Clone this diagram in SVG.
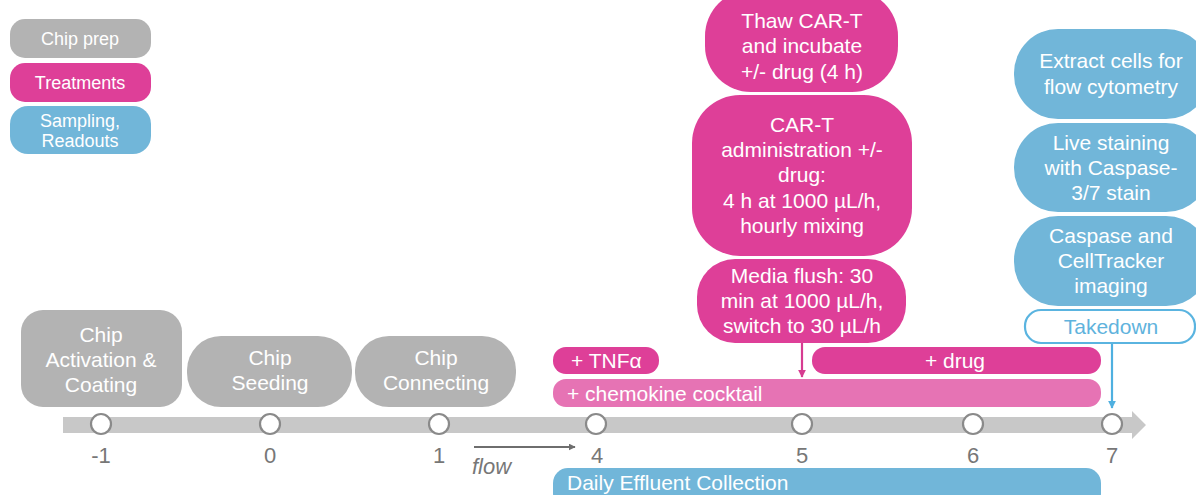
<svg xmlns="http://www.w3.org/2000/svg" width="1196" height="495" viewBox="0 0 1196 495">
<defs>
<style>
text{font-family:"Liberation Sans",Arial,sans-serif;}
.w{fill:#ffffff;font-size:21px;text-anchor:middle;}
.lg{fill:#ffffff;font-size:18px;text-anchor:middle;}
.wl{fill:#ffffff;font-size:21px;}
.num{fill:#777777;font-size:22px;text-anchor:middle;}
.gray{fill:#b3b3b3;}
.pink{fill:#de3f98;}
.lpink{fill:#e673b4;}
.blue{fill:#71b6d9;}
.dot{fill:#ffffff;stroke:#8a8a8a;stroke-width:2.2;}
</style>
<marker id="ahg" viewBox="0 0 10 10" refX="9" refY="5" markerWidth="7" markerHeight="7" markerUnits="userSpaceOnUse" orient="auto"><path d="M0,0 L10,5 L0,10 z" fill="#6e6e6e"/></marker>
<marker id="ahp" viewBox="0 0 10 10" refX="9" refY="5" markerWidth="8" markerHeight="8" markerUnits="userSpaceOnUse" orient="auto"><path d="M0,0 L10,5 L0,10 z" fill="#d63c91"/></marker>
<marker id="ahb" viewBox="0 0 10 10" refX="9" refY="5" markerWidth="8" markerHeight="8" markerUnits="userSpaceOnUse" orient="auto"><path d="M0,0 L10,5 L0,10 z" fill="#4fb0e0"/></marker>
</defs>

<g id="legend-chip-prep"><rect class="gray" x="10" y="19" width="141" height="39" rx="15"/><text class="lg" x="80" y="45">Chip prep</text></g>
<g id="legend-treatments"><rect class="pink" x="10" y="63" width="141" height="39" rx="15"/><text class="lg" x="80" y="89">Treatments</text></g>
<g id="legend-sampling"><rect class="blue" x="10" y="106" width="141" height="48" rx="18"/><text class="lg" x="80" y="127">Sampling,</text><text class="lg" x="80" y="147">Readouts</text></g>

<g id="timeline">
<path d="M63,417 L1132,417 L1132,411 L1146,425 L1132,439 L1132,433 L63,433 z" fill="#c8c8c8"/>
</g>

<g id="connectors">
<line x1="474" y1="447" x2="575" y2="447" stroke="#6e6e6e" stroke-width="1.8" marker-end="url(#ahg)"/>
<line x1="802" y1="343" x2="802" y2="377" stroke="#d63c91" stroke-width="2.2" marker-end="url(#ahp)"/>
<line x1="1112" y1="343" x2="1112" y2="408" stroke="#4fb0e0" stroke-width="2.2" marker-end="url(#ahb)"/>
</g>
<text x="472" y="474" font-size="22" font-style="italic" fill="#777777">flow</text>

<g id="day-markers">
<circle class="dot" cx="101" cy="424" r="10"/>
<circle class="dot" cx="270" cy="424" r="10"/>
<circle class="dot" cx="439" cy="424" r="10"/>
<circle class="dot" cx="596" cy="424" r="10"/>
<circle class="dot" cx="802" cy="424" r="10"/>
<circle class="dot" cx="973" cy="424" r="10"/>
<circle class="dot" cx="1112" cy="424" r="10"/>
<text class="num" x="101" y="463">-1</text>
<text class="num" x="270" y="463">0</text>
<text class="num" x="439" y="463">1</text>
<text class="num" x="597" y="463">4</text>
<text class="num" x="802" y="463">5</text>
<text class="num" x="973" y="463">6</text>
<text class="num" x="1112" y="463">7</text>
</g>

<g id="chip-activation"><rect class="gray" x="21" y="310" width="161" height="97" rx="22"/><text class="w" x="101" y="342">Chip</text><text class="w" x="101" y="367">Activation &amp;</text><text class="w" x="101" y="392">Coating</text></g>
<g id="chip-seeding"><rect class="gray" x="187" y="336" width="165" height="71" rx="34"/><text class="w" x="270" y="365">Chip</text><text class="w" x="270" y="390">Seeding</text></g>
<g id="chip-connecting"><rect class="gray" x="355" y="336" width="161" height="71" rx="34"/><text class="w" x="436" y="365">Chip</text><text class="w" x="436" y="390">Connecting</text></g>

<g id="tnfa"><rect class="pink" x="553" y="347" width="106" height="27" rx="13"/><text class="wl" x="571" y="368">+ TNFα</text></g>
<g id="drug"><rect class="pink" x="812" y="347" width="289" height="27" rx="13"/><text class="w" x="955" y="368">+ drug</text></g>
<g id="chemokine"><rect class="lpink" x="553" y="379" width="548" height="28" rx="13"/><text class="wl" x="567" y="401">+ chemokine cocktail</text></g>
<g id="effluent"><rect class="blue" x="553" y="468" width="548" height="40" rx="15"/><text class="wl" x="567" y="490">Daily Effluent Collection</text></g>

<g id="thaw"><rect class="pink" x="705" y="-10" width="193" height="102" rx="46"/><text class="w" x="802" y="28">Thaw CAR-T</text><text class="w" x="802" y="53">and incubate</text><text class="w" x="802" y="79">+/- drug (4 h)</text></g>
<g id="cart-admin"><rect class="pink" x="692" y="95" width="220" height="161" rx="48"/><text class="w" x="802" y="132">CAR-T</text><text class="w" x="802" y="157">administration +/-</text><text class="w" x="802" y="182">drug:</text><text class="w" x="802" y="208">4 h at 1000 µL/h,</text><text class="w" x="802" y="233">hourly mixing</text></g>
<g id="media-flush"><rect class="pink" x="697" y="259" width="209" height="84" rx="38"/><text class="w" x="802" y="283">Media flush: 30</text><text class="w" x="802" y="308">min at 1000 µL/h,</text><text class="w" x="802" y="333">switch to 30 µL/h</text></g>

<g id="extract"><rect class="blue" x="1014" y="29" width="196" height="90" rx="44"/><text class="w" x="1111" y="68">Extract cells for</text><text class="w" x="1111" y="94">flow cytometry</text></g>
<g id="live-staining"><rect class="blue" x="1014" y="123" width="196" height="89" rx="44"/><text class="w" x="1111" y="150">Live staining</text><text class="w" x="1111" y="175">with Caspase-</text><text class="w" x="1111" y="200">3/7 stain</text></g>
<g id="caspase"><rect class="blue" x="1014" y="216" width="196" height="90" rx="44"/><text class="w" x="1111" y="243">Caspase and</text><text class="w" x="1111" y="268">CellTracker</text><text class="w" x="1111" y="293">imaging</text></g>
<g id="takedown"><rect x="1025" y="310" width="170" height="33" rx="16" fill="#ffffff" stroke="#5ab4e0" stroke-width="2.2"/><text x="1111" y="334" font-size="21" text-anchor="middle" fill="#5fb3dd">Takedown</text></g>
</svg>
